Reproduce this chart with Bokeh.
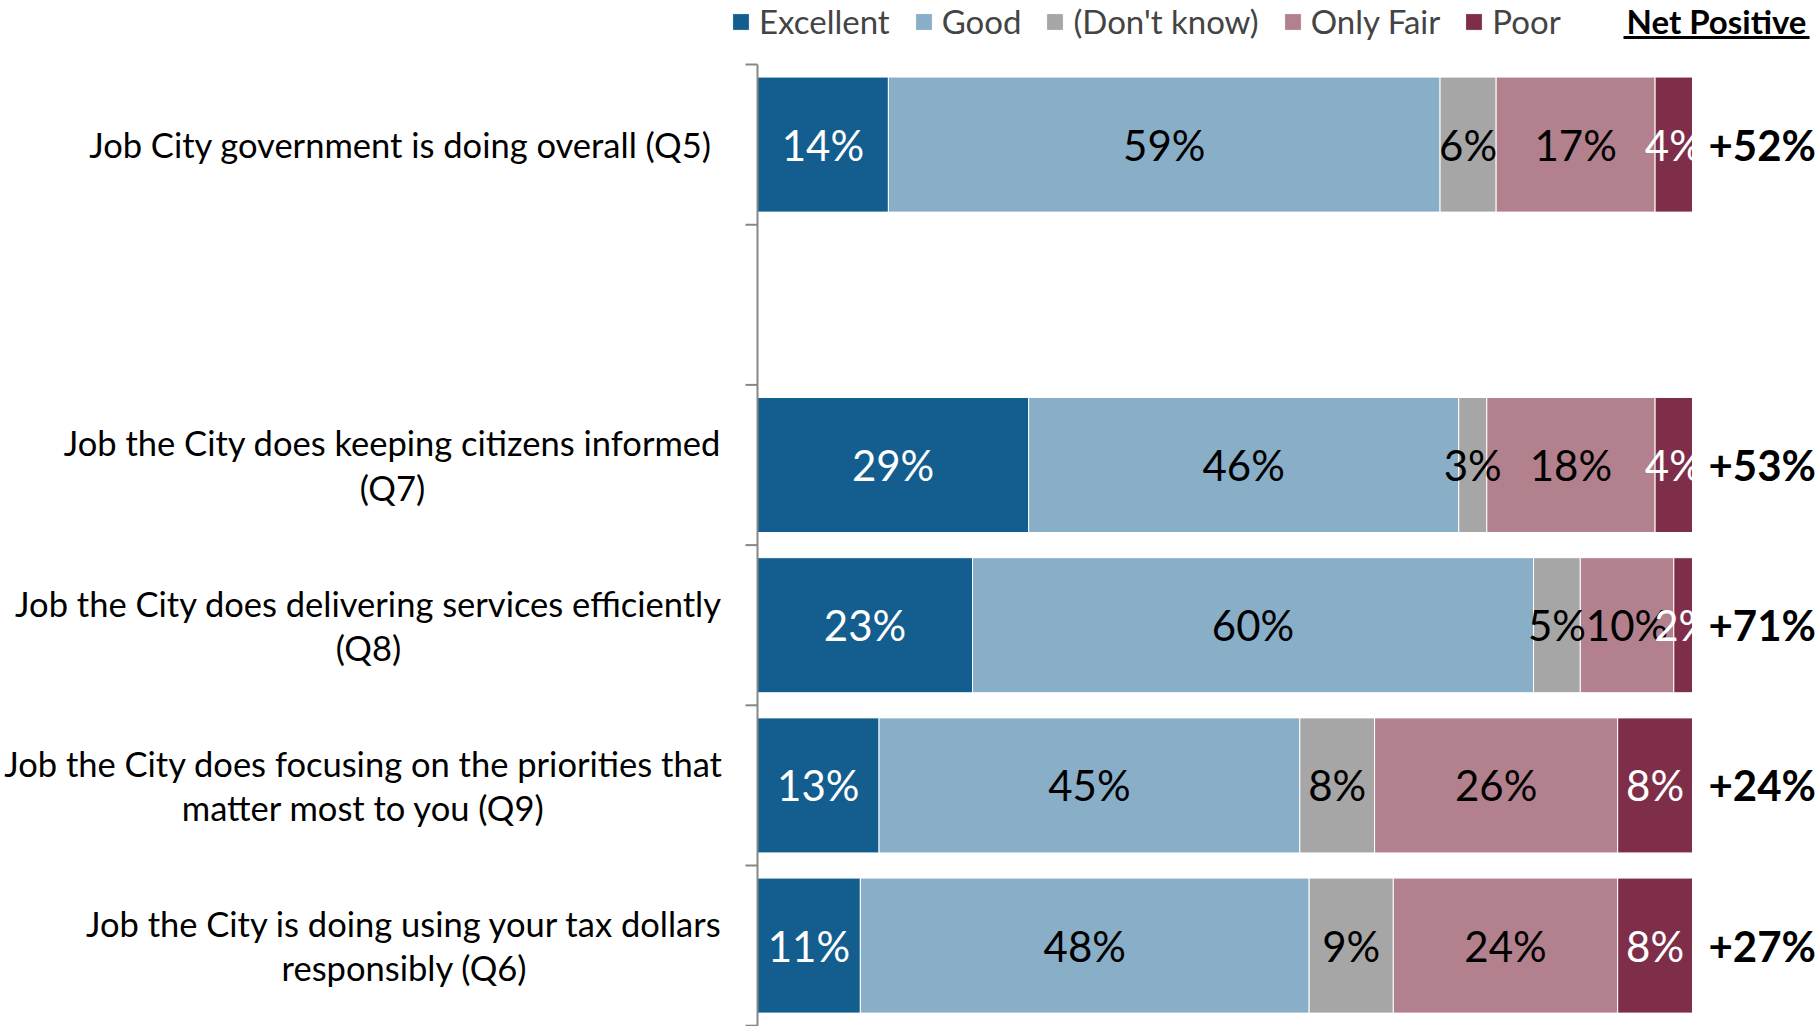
from bokeh.plotting import figure
from bokeh.models import ColumnDataSource, Range1d
from bokeh.core.properties import value
from bokeh.embed import file_html
from bokeh.resources import INLINE

# ---------------- data ----------------
questions = [
    "Job City government is doing overall (Q5)",
    "Job the City does keeping citizens informed\n(Q7)",
    "Job the City does delivering services efficiently\n(Q8)",
    "Job the City does focusing on the priorities that\nmatter most to you (Q9)",
    "Job the City is doing using your tax dollars\nresponsibly (Q6)",
]
slot_index = [0, 2, 3, 4, 5]          # slot 1 is left empty, as in the original
series_names = ["Excellent", "Good", "(Don't know)", "Only Fair", "Poor"]
excellent = [14, 29, 23, 13, 11]
good = [59, 46, 60, 45, 48]
dont_know = [6, 3, 5, 8, 9]
only_fair = [17, 18, 10, 26, 24]
poor = [4, 4, 2, 8, 8]
net_positive = [52, 53, 71, 24, 27]
n_slots = 6

# ---------------- style ----------------
colors = ["#135E8F", "#88AEC8", "#A6A6A6", "#B3808E", "#7F2E4A"]
label_colors = ["white", "black", "black", "black", "white"]
FONT = "Lato"
W, H = 1820, 1026
PX_PER_PCT = 9.35          # pixels per percentage point
ZERO_X = 757               # px of the 0% line
SLOT_PX = 160.2
TOP_Y = 64                 # px of the top of the category axis

def dx(px):   # px -> data x
    return (px - ZERO_X) / PX_PER_PCT

def dy(py):   # px (from top) -> data y
    return (py - TOP_Y) / SLOT_PX

p = figure(width=W, height=H, output_backend="svg", toolbar_location=None,
           x_range=Range1d(dx(0), dx(W)), y_range=Range1d(dy(H), dy(0)),
           x_axis_location=None, y_axis_location=None,
           min_border=0, outline_line_color=None)
p.grid.visible = False

ys = [s + 0.5 for s in slot_index]
keys = ["ex", "gd", "dk", "of", "pr"]
vals = [excellent, good, dont_know, only_fair, poor]
src = ColumnDataSource(dict(y=ys, **{k: v for k, v in zip(keys, vals)}))

renderers = p.hbar_stack(keys, y="y", height=0.843, color=colors, source=src,
                         line_color="white", line_width=1,
                         legend_label=series_names)

# value labels inside segments
for i, (k, v) in enumerate(zip(keys, vals)):
    left = [sum(vals[j][r] for j in range(i)) for r in range(len(ys))]
    xs = [l + x / 2 for l, x in zip(left, v)]
    p.text(x=xs, y=ys, text=[f"{x}%" for x in v], text_align="center",
           text_baseline="middle", text_font=value(FONT),
           text_font_size="42px", text_color=label_colors[i])

# net positive labels
totals = [sum(vals[j][r] for j in range(5)) for r in range(len(ys))]
p.text(x=totals, y=ys, text=[f"+{n}%" for n in net_positive], x_offset=16,
       text_align="left", text_baseline="middle", text_font=value(FONT),
       text_font_size="42px", text_font_style="bold", text_color="black")

# category labels (centred lines, block right edge near the axis)
label_cx = [400, 392, 368, 363, 404]
p.text(x=[dx(c) for c in label_cx], y=ys, text=questions,
       text_align="center", text_baseline="middle", text_font=value(FONT),
       text_font_size="34.5px", text_color="black", text_line_height=1.08)

# category axis line and boundary ticks
p.segment(x0=[0], y0=[0], x1=[0], y1=[n_slots], line_color="#878787", line_width=2)
tick_y = list(range(n_slots + 1))
p.segment(x0=[dx(ZERO_X - 12)] * len(tick_y), y0=tick_y, x1=[0] * len(tick_y),
          y1=tick_y, line_color="#878787", line_width=2)

# "Net Positive" header (underlined)
p.text(x=[dx(1716)], y=[dy(20)], text=["Net Positive"], text_align="center",
       text_baseline="middle", text_font=value(FONT), text_font_size="33px",
       text_font_style="bold", text_color="black")
p.segment(x0=[dx(1623)], y0=[dy(37)], x1=[dx(1809)], y1=[dy(37)],
          line_color="black", line_width=3)

# legend
lg = p.legend[0]
lg.orientation = "horizontal"
lg.location = (730, H - 23 - 18)
lg.padding = 0
lg.margin = 0
lg.spacing = 23
lg.label_standoff = 8
lg.glyph_width = 21
lg.glyph_height = 21
lg.label_height = 36
lg.label_text_font = FONT
lg.label_text_font_size = "33px"
lg.border_line_color = None
lg.background_fill_alpha = 0

open("out.html", "w").write(file_html(p, INLINE))
